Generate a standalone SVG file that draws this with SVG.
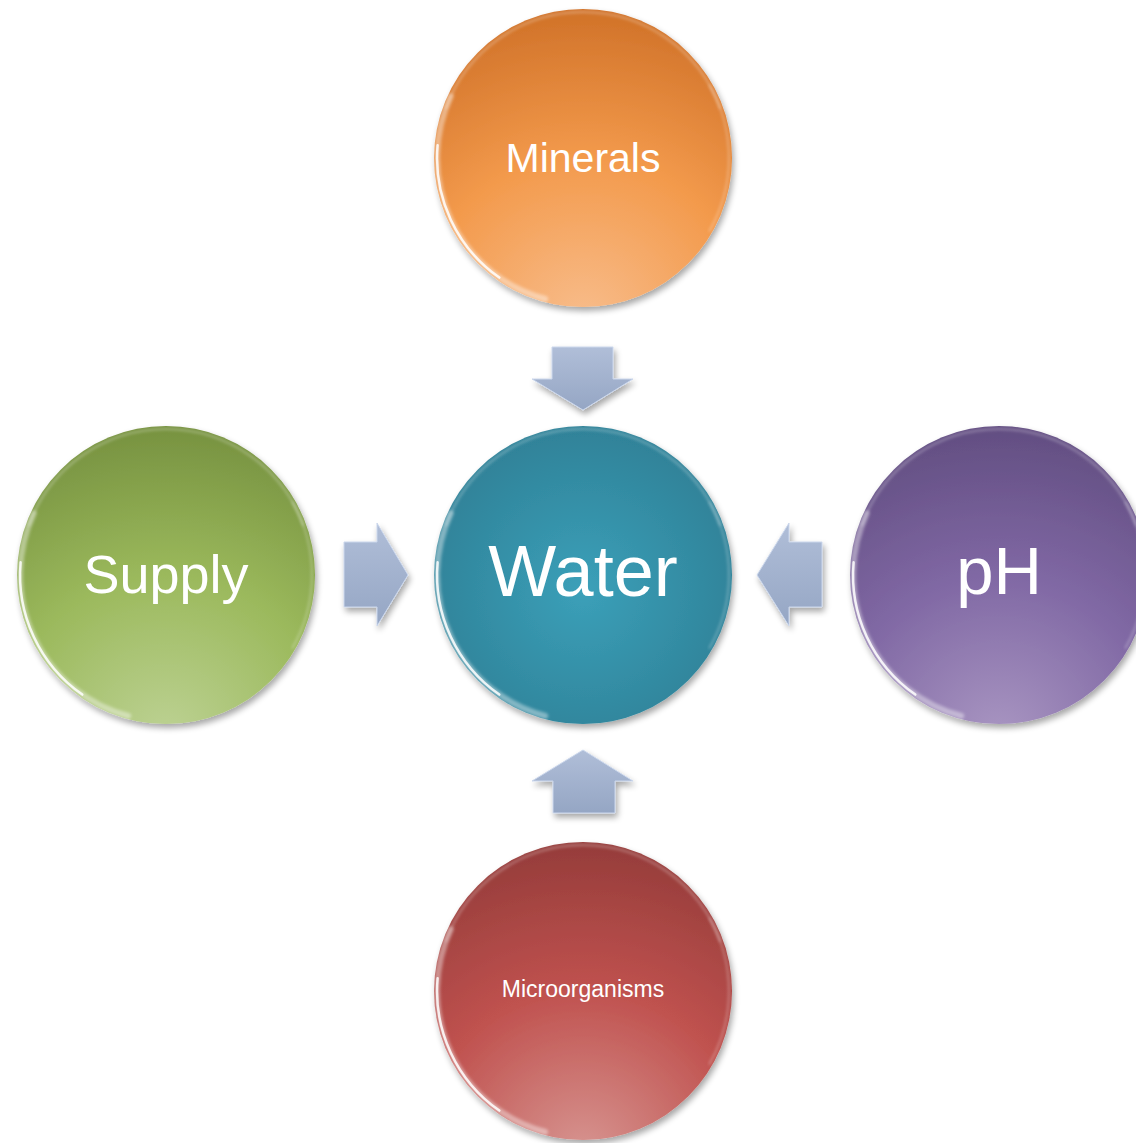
<svg xmlns="http://www.w3.org/2000/svg" xmlns:xlink="http://www.w3.org/1999/xlink" width="1136" height="1143" viewBox="0 0 1136 1143">
  <style>
    .label { font-family: "Liberation Sans", Arial, sans-serif; fill: #ffffff; text-anchor: middle; }
    .rimSoft { fill: none; stroke: #ffffff; stroke-opacity: 0.4; stroke-width: 6; stroke-linecap: round; }
    .rimHard { fill: none; stroke: #ffffff; stroke-opacity: 0.85; stroke-width: 2.5; stroke-linecap: round; }
    .rimTop { fill: none; stroke: #ffffff; stroke-opacity: 0.3; stroke-width: 2; stroke-linecap: round; }
    .rimRight { fill: none; stroke: #ffffff; stroke-opacity: 0.35; stroke-width: 1.5; stroke-linecap: round; }
    .arrow { fill: url(#arrowFill); stroke: #cbd7ec; stroke-width: 1; filter: url(#shadow); }
  </style>
  <defs>
    <filter id="shadow" x="-20%" y="-20%" width="140%" height="140%">
      <feGaussianBlur in="SourceAlpha" stdDeviation="3"/>
      <feOffset dx="2" dy="4" result="b"/>
      <feComponentTransfer><feFuncA type="linear" slope="0.35"/></feComponentTransfer>
      <feMerge><feMergeNode/><feMergeNode in="SourceGraphic"/></feMerge>
    </filter>
    <filter id="soft" x="-10%" y="-10%" width="120%" height="120%">
      <feGaussianBlur stdDeviation="1.5"/>
    </filter>

    <radialGradient id="gOrange" cx="0.5" cy="1.05" r="1.1" fx="0.5" fy="1.05">
      <stop offset="0" stop-color="#f8bd8c"/>
      <stop offset="0.5" stop-color="#f39a4c"/>
      <stop offset="1" stop-color="#cd6e25"/>
    </radialGradient>
    <radialGradient id="gTeal" cx="0.5" cy="0.55" r="0.6">
      <stop offset="0" stop-color="#3ba0b9"/>
      <stop offset="1" stop-color="#2e7f95"/>
    </radialGradient>
    <radialGradient id="gGreen" cx="0.5" cy="1.05" r="1.1" fx="0.5" fy="1.05">
      <stop offset="0" stop-color="#bdd294"/>
      <stop offset="0.5" stop-color="#9bb95c"/>
      <stop offset="1" stop-color="#738e3d"/>
    </radialGradient>
    <radialGradient id="gPurple" cx="0.5" cy="1.05" r="1.1" fx="0.5" fy="1.05">
      <stop offset="0" stop-color="#a996c2"/>
      <stop offset="0.5" stop-color="#8068a4"/>
      <stop offset="1" stop-color="#5f4b7e"/>
    </radialGradient>
    <radialGradient id="gRed" cx="0.5" cy="1.05" r="1.1" fx="0.5" fy="1.05">
      <stop offset="0" stop-color="#d79591"/>
      <stop offset="0.5" stop-color="#c0524f"/>
      <stop offset="1" stop-color="#913a38"/>
    </radialGradient>

    <linearGradient id="arrowFill" x1="0" y1="0" x2="0" y2="1">
      <stop offset="0" stop-color="#b0bed8"/>
      <stop offset="1" stop-color="#95a6c4"/>
    </linearGradient>

    <!-- glossy bevel reflections, drawn around a circle centred at 0,0 -->
    <g id="gloss">
      <path class="rimSoft" filter="url(#soft)" d="M-37.8,141 A146,146 0 0 1 -132.3,-61.7"/>
      <path class="rimHard" d="M-83.7,119.6 A146,146 0 0 1 -145.4,-12.7"/>
      <path class="rimTop" filter="url(#soft)" d="M-137.2,-49.9 A146,146 0 0 1 137.2,-49.9"/>
      <path class="rimRight" filter="url(#soft)" d="M126.4,-73 A146,146 0 0 1 126.4,73"/>
    </g>
  </defs>

  <rect width="1136" height="1143" fill="#ffffff"/>

  <!-- block arrows pointing at the centre circle -->
  <g id="connectors">
    <path class="arrow" d="M552,347 H613 V379 H633 L583,410 L532,379 H552 Z"/>
    <path class="arrow" d="M344,542 H377 V523 L408,575 L377,626 V607 H344 Z"/>
    <path class="arrow" d="M822,542 H789 V523 L757,575 L789,626 V607 H822 Z"/>
    <path class="arrow" d="M553,813 H615 V781 H633 L583,750 L532,781 H553 Z"/>
  </g>

  <g id="minerals" transform="translate(583,158)">
    <circle r="149" fill="url(#gOrange)" filter="url(#shadow)"/>
    <use href="#gloss"/>
    <text class="label" y="14" font-size="41">Minerals</text>
  </g>

  <g id="water" transform="translate(583,575)">
    <circle r="149" fill="url(#gTeal)" filter="url(#shadow)"/>
    <use href="#gloss"/>
    <text class="label" y="21" font-size="72">Water</text>
  </g>

  <g id="supply" transform="translate(166,575)">
    <circle r="149" fill="url(#gGreen)" filter="url(#shadow)"/>
    <use href="#gloss"/>
    <text class="label" y="18" font-size="54">Supply</text>
  </g>

  <g id="ph" transform="translate(999,575)">
    <circle r="149" fill="url(#gPurple)" filter="url(#shadow)"/>
    <use href="#gloss"/>
    <text class="label" y="19" font-size="67">pH</text>
  </g>

  <g id="microorganisms" transform="translate(583,991)">
    <circle r="149" fill="url(#gRed)" filter="url(#shadow)"/>
    <use href="#gloss"/>
    <text class="label" y="6" font-size="23">Microorganisms</text>
  </g>
</svg>
